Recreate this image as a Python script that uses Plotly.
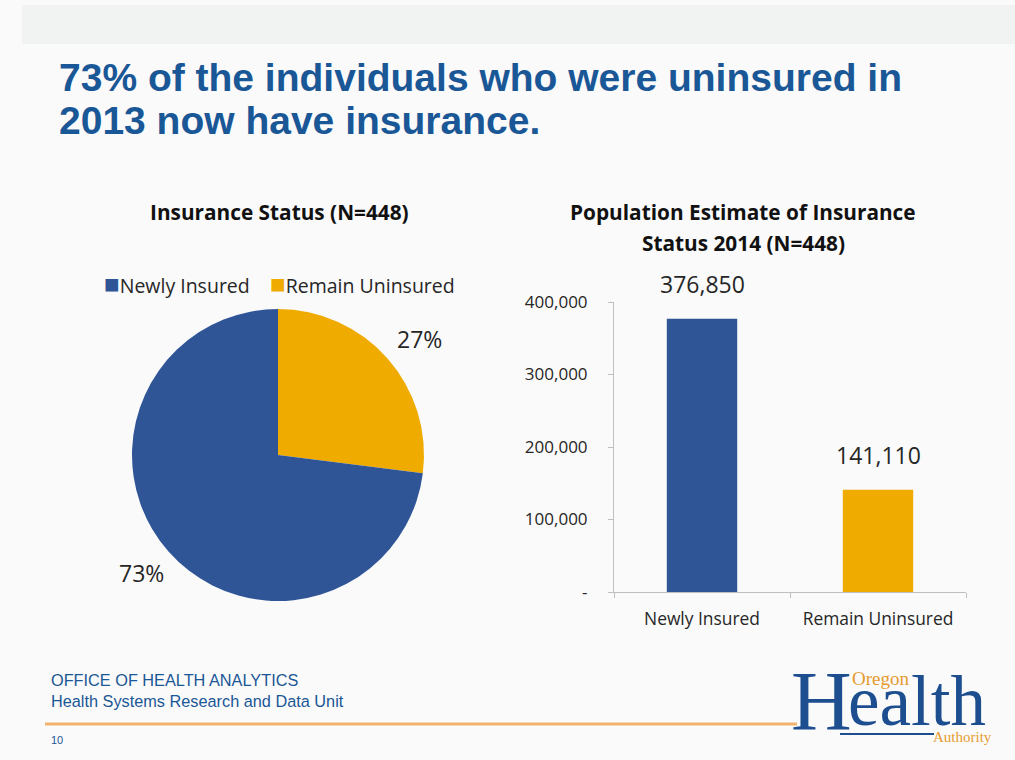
import plotly.graph_objects as go

# Insurance status of people uninsured in 2013
status_labels = ["Newly Insured", "Remain Uninsured"]
status_pct = [73, 27]
population_2014 = [376850, 141110]
y_tick_vals = [0, 100000, 200000, 300000, 400000]
y_tick_text = ["-", "100,000", "200,000", "300,000", "400,000"]
slice_colors = ["#2f5597", "#efab00"]

W, H = 1015, 760
TEXT = "#262626"
BRAND = "#1a5796"
BODY_FONT = "Open Sans, Lato, sans-serif"
ARIAL = "Liberation Sans, Arial, sans-serif"


def fx(x):
    return x / W


def fy(y):
    return 1 - y / H


fig = go.Figure()

# Pie: share of the 2013 uninsured by current status.
# Slices run clockwise from 12 o'clock, smallest share first.
fig.add_trace(go.Pie(
    labels=status_labels[::-1],
    values=status_pct[::-1],
    sort=False,
    direction="clockwise",
    rotation=0,
    marker=dict(colors=slice_colors[::-1], line=dict(width=0)),
    textinfo="none",
    hoverinfo="label+percent",
    showlegend=False,
    domain=dict(x=[fx(132), fx(424)], y=[fy(601), fy(309)]),
))

# Bars: population estimate by status
fig.add_trace(go.Bar(
    x=status_labels,
    y=population_2014,
    width=0.4,
    marker=dict(color=slice_colors, line=dict(width=0)),
    showlegend=False,
    hovertemplate="%{x}: %{y:,}<extra></extra>",
))

annotations = []


def label(x, y, text, size, color=TEXT, family=BODY_FONT, xanchor="center", **kw):
    annotations.append(dict(
        x=fx(x), y=fy(y), xref="paper", yref="paper", text=text,
        showarrow=False, xanchor=xanchor, yanchor="middle",
        font=dict(family=family, size=size, color=color), **kw,
    ))


# Bar value labels
for lab, val in zip(status_labels, population_2014):
    annotations.append(dict(
        x=lab, y=val, xref="x", yref="y", text=f"{val:,}",
        showarrow=False, yanchor="middle", yshift=35,
        font=dict(family=BODY_FONT, size=23, color=TEXT),
    ))

# Pie percentage labels
pie_label_pos = {"Newly Insured": (141, 573), "Remain Uninsured": (419, 339)}
for lab, pct in zip(status_labels, status_pct):
    x, y = pie_label_pos[lab]
    label(x, y, f"{pct}%", 23)

# Pie legend
legend_text = "    ".join(
    f"<span style='color:{c};font-size:26px'>■</span>{lab}"
    for lab, c in zip(status_labels, slice_colors)
)
label(102, 283, legend_text, 19.5, xanchor="left")

# Chart titles
label(279, 212, "<b>Insurance Status (N=448)</b>", 20.8, color="#111111")
label(743, 212, "<b>Population Estimate of Insurance</b>", 20.8, color="#111111")
label(743, 243, "<b>Status 2014 (N=448)</b>", 20.8, color="#111111")

# Slide headline
label(57, 77, "<b>73% of the individuals who were uninsured in</b>", 39,
      color=BRAND, family=ARIAL, xanchor="left")
label(57, 120, "<b>2013 now have insurance.</b>", 39,
      color=BRAND, family=ARIAL, xanchor="left")

# Footer text
label(49, 680, "OFFICE OF HEALTH ANALYTICS", 16.3, color=BRAND, family=ARIAL, xanchor="left")
label(49, 701, "Health Systems Research and Data Unit", 16.3, color=BRAND, family=ARIAL, xanchor="left")
label(49, 740, "10", 11, color=BRAND, family=ARIAL, xanchor="left")

# Logo wordmark
LOGO_FONT = "Liberation Serif, serif"
LOGO_BLUE = "#1d4e8f"
LOGO_ORANGE = "#e69a2e"
label(789, 701, "H", 84, color=LOGO_BLUE, family=LOGO_FONT, xanchor="left")
label(846, 701, "ealth", 71, color=LOGO_BLUE, family=LOGO_FONT, xanchor="left")
label(850, 678, "Oregon", 19, color=LOGO_ORANGE, family=LOGO_FONT, xanchor="left")
label(994, 737, "Authority", 15, color=LOGO_ORANGE, family=LOGO_FONT, xanchor="right")

shapes = [
    # top band
    dict(type="rect", xref="paper", yref="paper", x0=fx(22), x1=1, y0=fy(44), y1=fy(5),
         fillcolor="#f1f3f3", line=dict(width=0), layer="below"),
    # footer rule
    dict(type="line", xref="paper", yref="paper", x0=fx(45), x1=fx(797), y0=fy(724), y1=fy(724),
         line=dict(color="#f2b46c", width=3)),
    # logo baseline stroke
    dict(type="line", xref="paper", yref="paper", x0=fx(840), x1=fx(934), y0=fy(734), y1=fy(734),
         line=dict(color=LOGO_BLUE, width=2)),
]

axis_color = "#bfbfbf"
fig.update_layout(
    width=W, height=H,
    autosize=False,
    margin=dict(l=0, r=0, t=0, b=0, pad=0, autoexpand=False),
    paper_bgcolor="#fafafa",
    plot_bgcolor="rgba(0,0,0,0)",
    showlegend=False,
    annotations=annotations,
    shapes=shapes,
    xaxis=dict(
        domain=[fx(614), fx(966)], range=[-0.5, 1.5], automargin=False,
        showline=True, linecolor=axis_color, linewidth=1,
        ticks="outside", tickson="boundaries", ticklen=5, tickcolor=axis_color,
        showgrid=False, zeroline=False, ticklabelstandoff=11,
        tickfont=dict(family=BODY_FONT, size=17.4, color=TEXT),
        fixedrange=True,
    ),
    yaxis=dict(
        domain=[fy(592), fy(302)], range=[0, 400000], automargin=False,
        tickvals=y_tick_vals, ticktext=y_tick_text,
        showline=True, linecolor=axis_color, linewidth=1,
        ticks="outside", ticklen=5, tickcolor=axis_color,
        showgrid=False, zeroline=False, ticklabelstandoff=17,
        tickfont=dict(family=BODY_FONT, size=17, color=TEXT),
        fixedrange=True,
    ),
)

fig.write_html("out.html")
